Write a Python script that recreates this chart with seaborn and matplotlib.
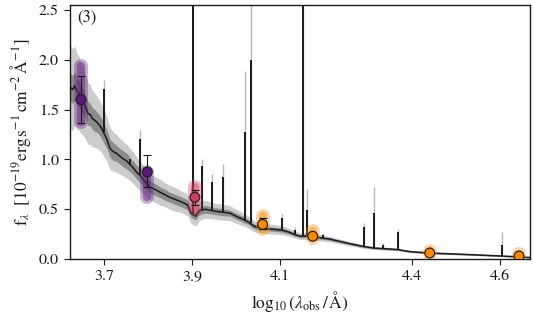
import matplotlib
matplotlib.use('Agg')
import matplotlib.pyplot as plt
import seaborn as sns
import numpy as np

# continuum of the model spectrum (median) and its 1/2 sigma half widths
cont_x = [3.622, 3.628, 3.633, 3.638, 3.643, 3.647, 3.652, 3.658, 3.663, 3.668,
          3.673, 3.679, 3.684, 3.690, 3.695, 3.702, 3.707, 3.713, 3.720, 3.728,
          3.736, 3.745, 3.752, 3.758, 3.765, 3.774, 3.781, 3.790, 3.797, 3.804,
          3.815, 3.827, 3.838, 3.849, 3.860, 3.872, 3.882, 3.890, 3.897, 3.908,
          3.915, 3.929, 3.952, 3.970, 3.986, 4.004, 4.015, 4.028, 4.040, 4.047,
          4.061, 4.080, 4.104, 4.120, 4.133, 4.145, 4.160, 4.172, 4.197, 4.213,
          4.252, 4.290, 4.313, 4.333, 4.367, 4.394, 4.440, 4.500, 4.553, 4.604,
          4.668]
cont_f = [1.73, 1.70, 1.74, 1.68, 1.66, 1.61, 1.58, 1.52, 1.46, 1.45,
          1.41, 1.39, 1.37, 1.34, 1.30, 1.24, 1.19, 1.11, 1.08, 1.06,
          1.03, 1.00, 0.98, 0.95, 0.92, 0.87, 0.84, 0.79, 0.76, 0.72,
          0.70, 0.67, 0.645, 0.62, 0.60, 0.58, 0.56, 0.54, 0.46, 0.43,
          0.48, 0.50, 0.48, 0.47, 0.46, 0.42, 0.40, 0.37, 0.33, 0.32,
          0.31, 0.30, 0.29, 0.27, 0.245, 0.23, 0.23, 0.225, 0.21, 0.20,
          0.16, 0.125, 0.11, 0.105, 0.095, 0.075, 0.06, 0.05, 0.04, 0.03,
          0.015]
cont_s1 = [0.14, 0.14, 0.14, 0.13, 0.13, 0.13, 0.12, 0.12, 0.12, 0.11,
           0.11, 0.11, 0.10, 0.10, 0.10, 0.10, 0.09, 0.09, 0.09, 0.08,
           0.08, 0.08, 0.08, 0.07, 0.07, 0.07, 0.07, 0.06, 0.06, 0.06,
           0.06, 0.055, 0.055, 0.05, 0.05, 0.05, 0.05, 0.05, 0.04, 0.04,
           0.04, 0.04, 0.035, 0.035, 0.03, 0.03, 0.03, 0.025, 0.025, 0.025,
           0.02, 0.02, 0.02, 0.018, 0.016, 0.015, 0.015, 0.015, 0.013, 0.012,
           0.01, 0.009, 0.008, 0.008, 0.007, 0.006, 0.006, 0.005, 0.004, 0.004,
           0.003]
cont_s2 = [0.42, 0.41, 0.40, 0.38, 0.37, 0.35, 0.34, 0.32, 0.31, 0.30,
           0.28, 0.27, 0.26, 0.25, 0.24, 0.23, 0.22, 0.21, 0.20, 0.19,
           0.18, 0.17, 0.17, 0.16, 0.16, 0.15, 0.15, 0.14, 0.14, 0.13,
           0.13, 0.13, 0.12, 0.12, 0.12, 0.11, 0.11, 0.11, 0.10, 0.10,
           0.10, 0.09, 0.08, 0.08, 0.075, 0.07, 0.065, 0.06, 0.055, 0.055,
           0.05, 0.05, 0.045, 0.04, 0.035, 0.035, 0.035, 0.03, 0.03, 0.028,
           0.022, 0.018, 0.016, 0.015, 0.013, 0.012, 0.011, 0.009, 0.008, 0.007,
           0.006]

# emission lines: position, continuum below, median peak, upper envelope
line_x = [3.699, 3.758, 3.781, 3.902, 3.922, 3.945, 3.970, 4.020, 4.033,
          4.104, 4.133, 4.151, 4.161, 4.197, 4.290, 4.313, 4.333, 4.367,
          4.440, 4.604]
line_base = [1.27, 0.95, 0.84, 0.45, 0.49, 0.48, 0.47, 0.38, 0.36,
             0.29, 0.245, 0.23, 0.23, 0.21, 0.125, 0.11, 0.105, 0.095,
             0.06, 0.03]
line_peak = [1.71, 1.00, 1.20, 3.0, 0.93, 0.77, 0.82, 1.27, 2.00,
             0.41, 0.29, 3.0, 0.49, 0.24, 0.32, 0.46, 0.14, 0.27,
             0.08, 0.14]
line_top = [1.80, 1.05, 1.30, 3.0, 1.00, 0.85, 0.95, 1.89, 3.0,
            0.45, 0.32, 3.0, 0.70, 0.26, 0.36, 0.72, 0.16, 0.30,
            0.13, 0.27]

# photometry
phot_x = [3.647, 3.798, 3.906, 4.060, 4.174, 4.440, 4.643]
phot_f = [1.60, 0.875, 0.62, 0.347, 0.228, 0.06, 0.03]
phot_lo = [1.37, 0.72, 0.54, 0.30, 0.21, 0.05, 0.02]
phot_hi = [1.84, 1.04, 0.695, 0.41, 0.25, 0.07, 0.04]
post_lo = [1.38, 0.62, 0.50, 0.30, 0.21, 0.05, 0.02]
post_hi = [1.94, 0.87, 0.72, 0.43, 0.28, 0.08, 0.05]
phot_col = ['#5c1a7a', '#5c1a7a', '#c83c5c', '#f28a0c', '#f28a0c',
            '#f28a0c', '#f28a0c']

xticks = [3.7, 3.9, 4.1, 4.4, 4.6]
xticklabels = ['3.7', '3.9', '4.1', '4.4', '4.6']

sns.set_theme(style='ticks')
plt.rcParams['font.family'] = ['STIXGeneral', 'DejaVu Serif']
plt.rcParams['mathtext.fontset'] = 'stix'
plt.rcParams['axes.linewidth'] = 1.0

fig = plt.figure(figsize=(5.34, 3.24), dpi=100)
ax = fig.add_axes([0.131, 0.2006, 0.8615, 0.784])

cx = np.array(cont_x)
cf = np.array(cont_f)
s1 = np.array(cont_s1)
s2 = np.array(cont_s2)
ax.fill_between(cx, cf - s2, cf + s2, color='0.80', lw=0, zorder=1)
ax.fill_between(cx, cf - s1, cf + s1, color='0.55', lw=0, zorder=2)
sns.lineplot(x=cx, y=cf, color='k', lw=1.1, sort=False, ax=ax, zorder=3)

ax.vlines(line_x, line_base, line_top, color='0.72', lw=1.0, zorder=2)
ax.vlines(line_x, line_base, line_peak, color='k', lw=1.4, zorder=3)

for x, lo, hi, c in zip(phot_x, post_lo, post_hi, phot_col):
    ax.plot([x, x], [lo, hi], color=c, lw=10, alpha=0.35,
            solid_capstyle='round', zorder=4)
    ax.plot([x, x], [lo, hi], color=c, lw=6, alpha=0.45,
            solid_capstyle='round', zorder=4)

pf = np.array(phot_f)
yerr = [pf - np.array(phot_lo), np.array(phot_hi) - pf]
ax.errorbar(phot_x, phot_f, yerr=yerr, fmt='none', ecolor='k',
            elinewidth=0.8, capsize=2.8, capthick=0.8, zorder=5)
ax.scatter(phot_x, phot_f, c=phot_col, s=50,
           edgecolors='k', linewidths=0.8, zorder=6)

ax.set_xlim(3.622, 4.668)
ax.set_ylim(0, 2.55)
ax.set_xticks(xticks)
ax.set_xticklabels(xticklabels)
ax.set_yticks([0, 0.5, 1.0, 1.5, 2.0, 2.5])
ax.tick_params(direction='out', length=4, width=0.8, labelsize=11.5,
               colors='k', pad=4)
for s in ax.spines.values():
    s.set_color('k')

ax.set_xlabel(r'$\log_{10}(\lambda_{\mathrm{obs}}\,/\,\mathrm{\AA})$',
              fontsize=12.5, color='k')
ax.set_ylabel(r'$\mathrm{f}_{\lambda}\ \ [10^{-19}\mathrm{erg\,s^{-1}\,cm^{-2}\,\AA^{-1}}]$',
              fontsize=12.5, color='k')
ax.text(0.015, 0.98, '(3)', transform=ax.transAxes, ha='left', va='top',
        fontsize=12, color='k')

fig.savefig('out.png', dpi=100)
